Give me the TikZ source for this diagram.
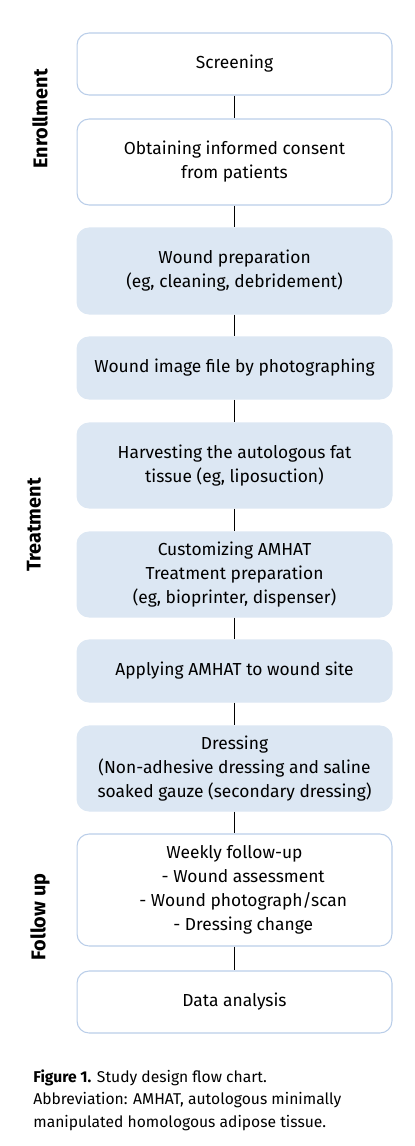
\documentclass[tikz,border=0pt]{standalone}
\usepackage{fontspec}
\setmainfont{Fira Sans}
\usetikzlibrary{positioning}
\definecolor{boxblue}{RGB}{220,231,243}
\definecolor{edgeblue}{RGB}{186,206,233}

\begin{document}
\begin{tikzpicture}[x=0.02cm, y=-0.02cm,
    plainbox/.style={draw=edgeblue, fill=white, line width=0.6pt, rounded corners=0.24cm,
      minimum width=6.3cm, align=center, font=\fontsize{9.9}{13.6}\selectfont},
    fillbox/.style={plainbox, draw=boxblue, fill=boxblue},
    phase/.style={rotate=90, font=\fontsize{11.3}{13}\selectfont\bfseries},
    link/.style={draw=black, line width=0.5pt}]
    \useasboundingbox (0,0) rectangle (414,1146);

    \node[plainbox, minimum height=1.24cm] (screen) at (234.5, 64) {Screening};
    \node[plainbox, minimum height=1.72cm] (consent) at (234.5, 162) {Obtaining informed consent\\from patients};
    \node[fillbox, minimum height=1.72cm] (prep) at (234.5, 271) {Wound preparation\\(eg, cleaning, debridement)};
    \node[fillbox, minimum height=1.24cm] (photo) at (234.5, 368) {Wound image file by photographing};
    \node[fillbox, minimum height=1.70cm] (harvest) at (234.5, 465.5) {Harvesting the autologous fat\\tissue (eg, liposuction)};
    \node[fillbox, minimum height=1.70cm] (custom) at (234.5, 574.5) {Customizing AMHAT\\Treatment preparation\\(eg, bioprinter, dispenser)};
    \node[fillbox, minimum height=1.24cm] (apply) at (234.5, 671) {Applying AMHAT to wound site};
    \node[fillbox, minimum height=1.70cm] (dress) at (234.5, 768.5) {Dressing\\(Non-adhesive dressing and saline\\soaked gauze (secondary dressing)};
    \node[plainbox, minimum height=2.24cm] (weekly) at (234.5, 890) {Weekly follow-up\\\hspace{1em}- Wound assessment\\\hspace{1em}- Wound photograph/scan\\\hspace{1em}- Dressing change};
    \node[plainbox, minimum height=1.24cm] (data) at (234.5, 1002) {Data analysis};

    \draw[link] (screen) -- (consent);
    \draw[link] (consent) -- (prep);
    \draw[link] (prep) -- (photo);
    \draw[link] (photo) -- (harvest);
    \draw[link] (harvest) -- (custom);
    \draw[link] (custom) -- (apply);
    \draw[link] (apply) -- (dress);
    \draw[link] (dress) -- (weekly);
    \draw[link] (weekly) -- (data);

    % phase labels
    \node[phase] (enroll) at (40, 119) {Enrollment};
    \node[phase] (treat) at (34, 525) {Treatment};
    \node[phase] (follow) at (40, 917) {Follow up};

    % caption
    \node[anchor=north west, inner sep=0pt, align=left, font=\fontsize{8.9}{13}\selectfont] (caption) at (33, 1069)
      {\textbf{Figure 1.} Study design flow chart.\\Abbreviation: AMHAT, autologous minimally\\manipulated homologous adipose tissue.};
\end{tikzpicture}
\end{document}
